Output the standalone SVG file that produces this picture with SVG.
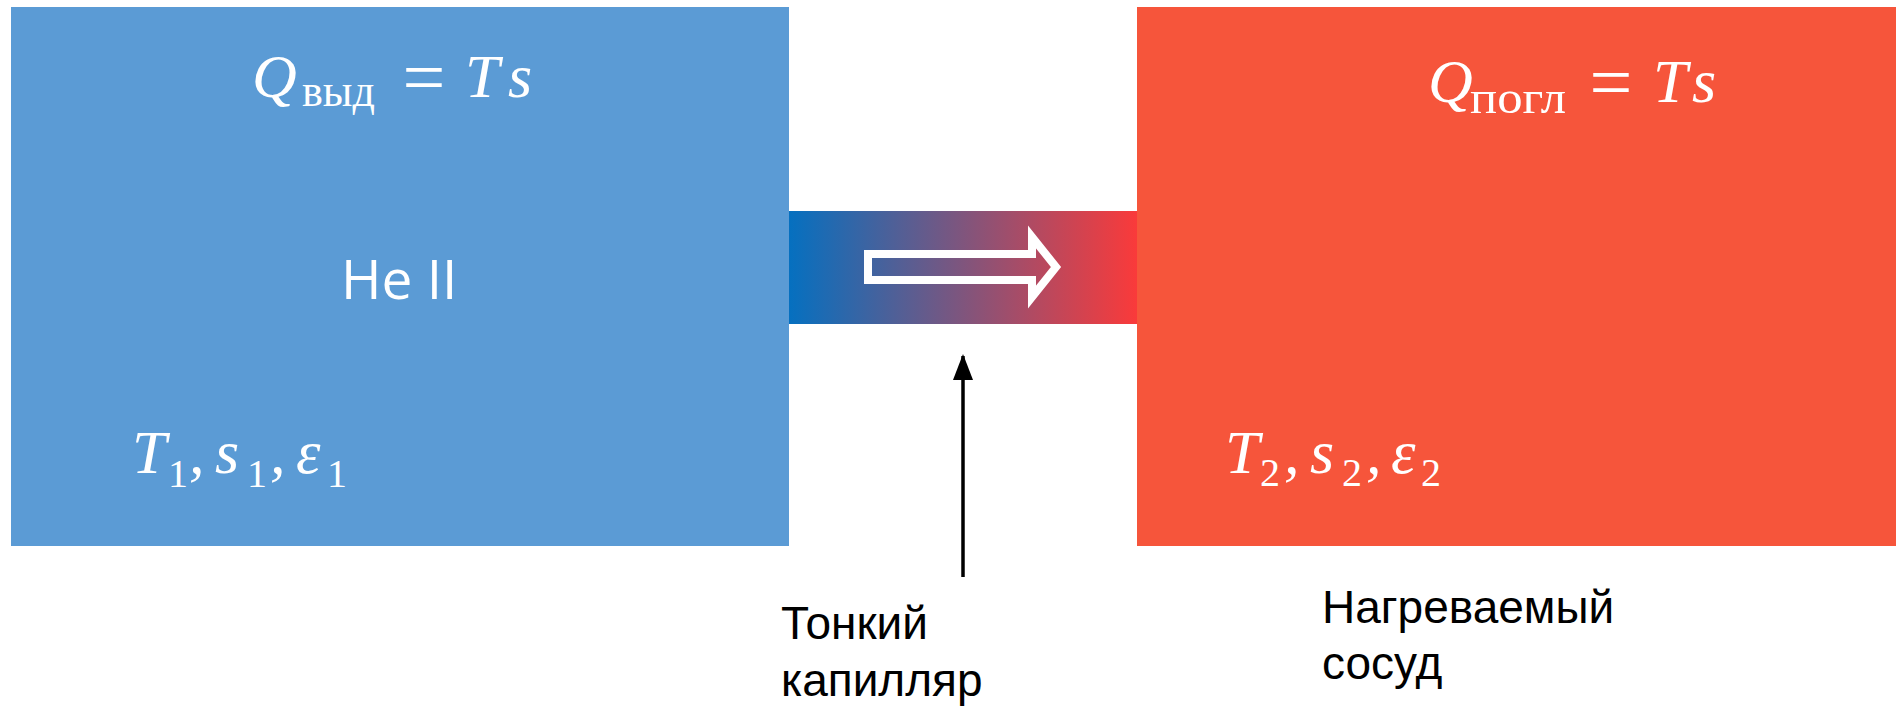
<svg xmlns="http://www.w3.org/2000/svg" width="1896" height="707" viewBox="0 0 1896 707">
  <style>
    .math { font-family: "Liberation Serif", "DejaVu Serif", serif; font-style: italic; fill: #ffffff; font-size: 62px; }
    .sub { font-family: "Liberation Serif", "DejaVu Serif", serif; fill: #ffffff; font-size: 46px; }
    .idx { font-family: "Liberation Serif", "DejaVu Serif", serif; fill: #ffffff; font-size: 40px; }
    .eq { font-family: "Liberation Serif", "DejaVu Serif", serif; fill: #ffffff; font-size: 76px; }
    .lbl { font-family: "Liberation Sans", Arial, sans-serif; fill: #000000; font-size: 46px; }
    .he { font-family: "Open Sans", "Liberation Sans", sans-serif; fill: #ffffff; font-size: 55px; }
  </style>
  <defs>
    <linearGradient id="capGrad" x1="0" y1="0" x2="1" y2="0">
      <stop offset="0" stop-color="#0570C0"/>
      <stop offset="1" stop-color="#FA3A3A"/>
    </linearGradient>
    <marker id="arrowHead" markerUnits="userSpaceOnUse" markerWidth="26" markerHeight="20" refX="24" refY="10" orient="auto" viewBox="0 0 26 20">
      <path d="M0,0 L26,10 L0,20 Z" fill="#000000"/>
    </marker>
  </defs>

  <rect width="1896" height="707" fill="#ffffff"/>

  <g id="left-vessel">
    <rect x="11" y="7" width="778" height="539" fill="#5B9BD5"/>
    <text class="math" x="252" y="97">Q</text>
    <text class="sub" x="302" y="106" textLength="73" lengthAdjust="spacingAndGlyphs">выд</text>
    <text class="eq" x="424" y="103" text-anchor="middle">=</text>
    <text class="math" x="465" y="97">T</text>
    <text class="math" x="508" y="97">s</text>
    <text class="he" x="341" y="299">He II</text>
    <text class="math" x="132" y="473">T</text>
    <text class="idx" x="168" y="487">1</text>
    <text class="math" x="189" y="473">,</text>
    <text class="math" x="215" y="473">s</text>
    <text class="idx" x="247" y="487">1</text>
    <text class="math" x="270" y="473">,</text>
    <text class="math" x="296" y="473">ε</text>
    <text class="idx" x="327" y="487">1</text>
  </g>

  <g id="capillary">
    <rect x="789" y="211" width="348" height="113" fill="url(#capGrad)"/>
    <path d="M868,254 L1032,254 L1032,237 L1056,267 L1032,297 L1032,280 L868,280 Z" fill="none" stroke="#ffffff" stroke-width="8" stroke-linejoin="miter" stroke-miterlimit="10"/>
  </g>

  <g id="right-vessel">
    <rect x="1137" y="7" width="759" height="539" fill="#F6553B"/>
    <text class="math" x="1428" y="102">Q</text>
    <text class="sub" x="1470" y="113" textLength="96" lengthAdjust="spacingAndGlyphs">погл</text>
    <text class="eq" x="1611" y="108" text-anchor="middle">=</text>
    <text class="math" x="1653" y="102">T</text>
    <text class="math" x="1692" y="102">s</text>
    <text class="math" x="1225" y="473">T</text>
    <text class="idx" x="1260" y="486">2</text>
    <text class="math" x="1284" y="473">,</text>
    <text class="math" x="1310" y="473">s</text>
    <text class="idx" x="1342" y="486">2</text>
    <text class="math" x="1366" y="473">,</text>
    <text class="math" x="1391" y="473">ε</text>
    <text class="idx" x="1421" y="486">2</text>
  </g>

  <g id="connectors">
    <line x1="963" y1="577" x2="963" y2="356" stroke="#000000" stroke-width="3.5" marker-end="url(#arrowHead)"/>
  </g>

  <g id="label-capillary">
    <text class="lbl" x="781" y="639">Тонкий</text>
    <text class="lbl" x="781" y="696">капилляр</text>
  </g>

  <g id="label-vessel">
    <text class="lbl" x="1322" y="623">Нагреваемый</text>
    <text class="lbl" x="1322" y="679">сосуд</text>
  </g>
</svg>
